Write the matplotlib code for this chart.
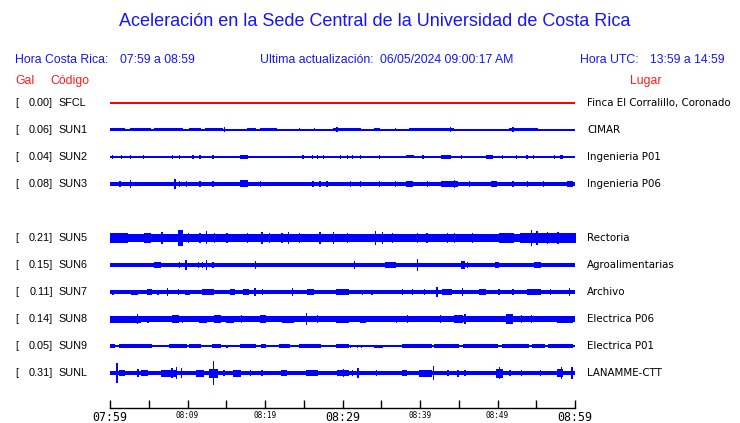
# -*- coding:utf-8 -*-
import matplotlib
matplotlib.use("Agg")
import matplotlib.pyplot as plt
from matplotlib.transforms import blended_transform_factory

# station data (top to bottom); SUN4 has no row in the figure
codes = ["SFCL", "SUN1", "SUN2", "SUN3", "SUN5", "SUN6", "SUN7", "SUN8", "SUN9", "SUNL"]
gal = [0.00, 0.06, 0.04, 0.08, 0.21, 0.15, 0.11, 0.14, 0.05, 0.31]
places = ["Finca El Corralillo, Coronado", "CIMAR", "Ingenieria P01", "Ingenieria P06",
          "Rectoria", "Agroalimentarias", "Archivo", "Electrica P06", "Electrica P01",
          "LANAMME-CTT"]
rows = [0, 1, 2, 3, 5, 6, 7, 8, 9, 10]

# time axis (minutes after 07:59)
tick_minutes = list(range(0, 61, 5))
tick_labels = ["07:59", "", "08:09", "", "08:19", "", "08:29", "", "08:39", "", "08:49", "", "08:59"]

# trace envelopes: typical half width (px) and bursts (start min, end min, half width px)
base_sfcl = 0.55
base_sun1 = 1.0
bursts_sun1 = [(0, 1.9, 1.5), (2.6, 5.2, 1.5), (5.8, 9.3, 1.5), (10.3, 11.6, 1.5), (12.3, 14.5, 1.5),
               (14.8, 14.8, 2.5), (17.7, 18.7, 1.5), (19.4, 21.5, 1.5), (24.5, 24.5, 1.5), (26.4, 26.4, 1.5),
               (28.8, 32.3, 1.5), (29.3, 29.3, 2.5), (34.2, 34.8, 1.5), (36.8, 36.8, 1.5), (38.7, 44.3, 1.5),
               (43.9, 43.9, 2.5), (45.2, 50.3, 1.3), (51.6, 55.1, 1.5), (52.0, 52.0, 2.5), (56.1, 59.7, 1.3)]
base_sun2 = 0.6
bursts_sun2 = [(0.3, 0.3, 1.8), (1.5, 1.5, 1.8), (2.6, 2.6, 2.0), (4.3, 4.3, 1.8), (8.1, 8.1, 2.0),
               (9.0, 9.0, 2.0), (10.7, 10.7, 2.0), (11.6, 11.6, 1.8), (13.3, 13.3, 1.8), (16.8, 17.7, 2.0),
               (24.9, 24.9, 1.8), (26.1, 26.1, 1.8), (26.8, 26.8, 1.8), (27.5, 27.5, 1.8), (29.7, 29.7, 1.8),
               (30.6, 30.6, 1.8), (31.3, 31.3, 1.8), (32.3, 32.3, 1.8), (34.8, 34.8, 1.8), (38.3, 39.1, 1.5),
               (40.4, 40.4, 1.8), (42.8, 43.9, 2.0), (45.4, 45.4, 1.8), (48.6, 49.4, 2.0), (50.6, 50.6, 1.8),
               (52.5, 52.5, 1.8), (53.8, 53.8, 1.8), (54.6, 54.6, 1.8), (57.4, 57.4, 1.8), (58.1, 58.4, 2.0)]
base_sun3 = 2.3
bursts_sun3 = [(1.3, 1.3, 3), (2.6, 2.6, 4), (8.4, 8.4, 5), (9.0, 9.0, 3), (9.9, 9.9, 3), (11.6, 11.6, 3),
               (13.3, 13.3, 3), (16.8, 17.7, 3.5), (19.4, 19.4, 3), (26.2, 26.2, 3), (27.1, 27.1, 3),
               (28.0, 28.0, 3), (31.0, 31.0, 3), (32.3, 32.3, 3), (34.8, 34.8, 3), (36.8, 36.8, 3),
               (38.3, 39.0, 3), (41.0, 41.0, 3), (42.8, 44.8, 3), (44.5, 44.5, 4), (46.4, 46.4, 3),
               (49.3, 49.9, 3), (52.0, 52.0, 3), (53.9, 53.9, 3), (55.9, 55.9, 3), (59.0, 59.7, 3)]
base_sun5 = 4.0
bursts_sun5 = [(0, 2.2, 4.5), (2.3, 2.3, 5.5), (4.5, 5.2, 5), (6.7, 6.7, 6), (8.8, 9.3, 8), (10.1, 10.1, 5.5),
               (11.6, 11.6, 5), (12.5, 12.5, 6.5), (13.5, 13.5, 5), (15.1, 15.1, 5), (17.7, 17.7, 5),
               (19.6, 19.6, 6), (20.6, 20.6, 5), (22.2, 22.2, 5), (23.0, 23.0, 6), (24.5, 24.5, 5),
               (27.1, 27.1, 6), (28.8, 28.8, 6), (30.6, 30.6, 5), (34.3, 34.3, 7), (35.2, 35.2, 6),
               (36.5, 36.5, 5), (39.7, 39.7, 5), (40.9, 40.9, 5), (43.5, 43.5, 5), (44.5, 44.5, 5),
               (46.8, 46.8, 5), (50.3, 52.0, 5.5), (53.0, 60, 4.5), (54.4, 54.4, 8), (55.1, 55.1, 7),
               (56.5, 56.5, 6), (57.8, 57.8, 6), (59.3, 59.3, 5)]
base_sun6 = 2.0
bursts_sun6 = [(3.0, 3.0, 2.5), (5.8, 6.5, 3), (9.0, 9.0, 3), (9.8, 9.8, 5), (11.4, 11.4, 3), (11.9, 11.9, 3),
               (12.5, 12.5, 5.5), (13.3, 13.3, 3), (15.9, 15.9, 2.5), (18.8, 18.8, 4), (19.6, 19.6, 2.5),
               (28.4, 29.7, 2.5), (31.5, 31.5, 4), (35.5, 36.8, 3), (39.7, 39.7, 6), (42.6, 42.6, 2.5),
               (43.6, 43.6, 2.5), (45.4, 45.7, 4), (46.1, 46.1, 3), (48.1, 48.1, 2.5), (49.7, 50.1, 3),
               (54.8, 55.5, 3), (57.7, 59.3, 2.5)]
base_sun7 = 1.9
bursts_sun7 = [(0.4, 0.4, 2.5), (2.8, 3.5, 2.5), (4.8, 5.4, 3), (6.2, 6.2, 2.5), (7.4, 7.4, 4), (8.8, 8.8, 3),
               (9.7, 10.3, 2.5), (11.9, 13.3, 3), (15.5, 16.1, 3), (17.2, 17.8, 3), (18.7, 18.7, 4),
               (19.7, 19.7, 3), (23.5, 23.5, 4), (25.5, 26.2, 3), (29.3, 30.7, 3), (32.6, 32.6, 2.5),
               (33.8, 33.8, 2.5), (37.7, 37.7, 3), (39.0, 39.0, 3), (40.6, 40.6, 3), (42.2, 42.2, 5),
               (42.9, 44.1, 3), (45.5, 45.5, 4), (47.7, 48.4, 3), (50.2, 50.2, 3), (52.0, 52.0, 3),
               (53.9, 55.5, 3), (56.8, 56.8, 3), (59.3, 59.3, 4)]
base_sun8 = 2.8
bursts_sun8 = [(0, 3.9, 3.5), (3.5, 3.5, 5), (4.9, 4.9, 3.5), (8.1, 8.8, 4.5), (9.4, 9.4, 3.5), (11.6, 12.5, 3.5),
               (13.5, 14.2, 4.5), (15.1, 15.9, 3.5), (17.0, 17.0, 4.5), (19.4, 20.0, 4.5), (22.3, 23.6, 3.5),
               (25.4, 25.4, 6), (26.8, 26.8, 4), (29.3, 30.7, 3.5), (32.3, 32.9, 3.5), (37.0, 37.0, 3.5),
               (38.4, 38.4, 4), (42.6, 42.6, 4), (44.5, 45.5, 4), (45.8, 45.8, 5), (51.2, 51.9, 5),
               (53.1, 53.1, 4.5), (54.4, 54.4, 4), (57.7, 59.7, 3.5)]
base_sun9 = 0.9
bursts_sun9 = [(0, 0.6, 2), (1.3, 3.0, 2), (3.2, 5.4, 2), (7.7, 9.9, 2), (10.3, 11.6, 2), (13.2, 14.2, 2),
               (15.1, 15.1, 1.5), (16.8, 18.7, 2), (19.6, 20.0, 2), (21.9, 23.2, 2), (24.5, 27.1, 2),
               (29.3, 30.7, 2), (31.0, 31.0, 1.5), (31.9, 31.9, 1.5), (32.5, 32.5, 1.5), (34.2, 35.2, 1.5),
               (37.7, 41.5, 2), (41.9, 45.0, 2), (45.6, 50.0, 2), (50.6, 54.0, 2), (54.5, 56.0, 2),
               (56.6, 59.7, 2)]
base_sunl = 2.3
bursts_sunl = [(0.9, 0.9, 10), (1.2, 1.8, 3), (3.6, 3.6, 4), (4.1, 4.8, 3), (6.7, 8.6, 3.5), (8.0, 8.0, 5),
               (8.6, 8.6, 6), (9.2, 9.2, 5), (11.2, 12.0, 3.5), (12.9, 13.8, 4.5), (13.4, 13.4, 12),
               (14.7, 14.7, 3), (15.9, 16.8, 3.5), (18.1, 18.1, 3), (19.6, 19.6, 3), (22.2, 22.8, 3),
               (25.4, 26.8, 3), (29.4, 30.7, 3), (30.1, 30.1, 4), (31.3, 31.3, 3), (32.0, 32.0, 5),
               (34.4, 34.4, 3), (37.8, 38.3, 3), (40.0, 41.5, 3.5), (41.7, 41.7, 7), (43.6, 43.6, 3),
               (44.9, 44.9, 3.5), (45.8, 45.8, 3), (49.9, 50.6, 4.5), (50.3, 50.3, 6), (51.6, 51.6, 3),
               (53.1, 53.1, 3), (55.5, 55.5, 3), (57.7, 58.4, 4), (58.3, 58.3, 6), (59.6, 59.6, 6)]

bases = [base_sfcl, base_sun1, base_sun2, base_sun3, base_sun5, base_sun6, base_sun7, base_sun8, base_sun9, base_sunl]
bursts = [[], bursts_sun1, bursts_sun2, bursts_sun3, bursts_sun5, bursts_sun6, bursts_sun7, bursts_sun8,
          bursts_sun9, bursts_sunl]

W, H = 740, 423
ROW_PX = 27.0
BLUE = "#1414ff"
RED = "#ff1a1a"

fig = plt.figure(figsize=(W / 100, H / 100), dpi=100)
# axes spans the trace area, bottom spine is the time axis
ax = fig.add_axes([110 / W, 1 - 408 / H, 465 / W, 318 / H])
ax.set_xlim(0, 60)
ax.set_ylim((408 - 103) / ROW_PX, (90 - 103) / ROW_PX)

for i in range(len(codes)):
    r = rows[i]
    b = bases[i] / ROW_PX
    col = "#ff0000" if codes[i] == "SFCL" else "#0000ff"
    ax.fill_between([0, 60], r - b, r + b, color=col, lw=0)
    for m0, m1, a in bursts[i]:
        a = a / ROW_PX
        ax.fill_between([m0 - 0.08, m1 + 0.08], r - a, r + a, color=col, lw=0)

for s in ["top", "left", "right"]:
    ax.spines[s].set_visible(False)
ax.spines["bottom"].set_linewidth(1.0)
ax.set_yticks([])
ax.set_xticks(tick_minutes)
ax.set_xticklabels(tick_labels, family="DejaVu Sans Mono")
ax.tick_params(axis="x", direction="in", length=5.8, width=1.0, pad=2.5)
for lab in ax.get_xticklabels():
    if lab.get_text() in ("07:59", "08:29", "08:59"):
        lab.set_fontsize(8.4)
    else:
        lab.set_fontsize(5.6)

# row labels: x in figure pixels, y in trace rows
tr = blended_transform_factory(fig.transFigure, ax.transData)
for i in range(len(codes)):
    r = rows[i]
    ax.text(15 / W, r, "[", transform=tr, va="center", ha="left", fontsize=7.8,
            family="Liberation Sans", clip_on=False)
    ax.text(53 / W, r, "%.2f]" % gal[i], transform=tr, va="center", ha="right", fontsize=7.8,
            family="Liberation Sans", clip_on=False)
    ax.text(58 / W, r, codes[i], transform=tr, va="center", ha="left", fontsize=7.8,
            family="Liberation Sans", clip_on=False)
    ax.text(587 / W, r, places[i], transform=tr, va="center", ha="left", fontsize=7.4,
            family="DejaVu Sans", clip_on=False)


def ftext(x, y, s, **kw):
    fig.text(x / W, 1 - y / H, s, va="center", family="Liberation Sans", **kw)


ftext(375, 22, "Aceleración en la Sede Central de la Universidad de Costa Rica", ha="center",
      fontsize=13, color=BLUE)
ftext(15, 60, "Hora Costa Rica:", fontsize=8.8, color=BLUE)
ftext(120, 60, "07:59 a 08:59", fontsize=8.8, color=BLUE)
ftext(260, 60, "Ultima actualización:", fontsize=8.8, color=BLUE)
ftext(380, 60, "06/05/2024 09:00:17 AM", fontsize=8.8, color=BLUE)
ftext(580, 60, "Hora UTC:", fontsize=8.8, color=BLUE)
ftext(650, 60, "13:59 a 14:59", fontsize=8.8, color=BLUE)
ftext(15, 81, "Gal", fontsize=8.8, color=RED)
ftext(50, 81, "Código", fontsize=8.8, color=RED)
ftext(630, 81, "Lugar", fontsize=8.8, color=RED)

fig.savefig("out.png", dpi=100)
